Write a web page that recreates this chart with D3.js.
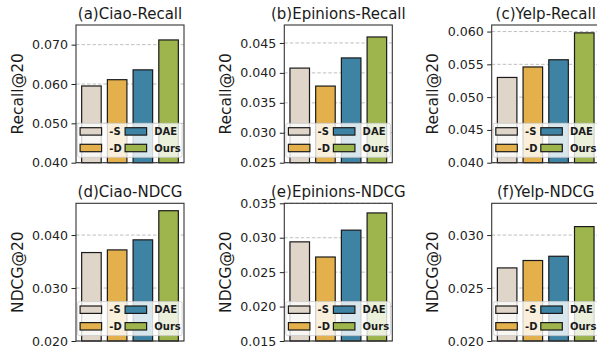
<!DOCTYPE html>
<html>
<head>
<meta charset="utf-8">
<script src="https://cdn.jsdelivr.net/npm/d3@7"></script>
<style>
  html, body { margin: 0; padding: 0; background: #fff; }
  svg { display: block; font-family: "DejaVu Sans", sans-serif; }
</style>
</head>
<body>
<svg id="chart" width="597" height="353"></svg>
<script>
// methods and bar colours
const methods = ['-S', '-D', 'DAE', 'Ours'];
const colors = ['#e0d5c9', '#e3b04b', '#3f83a4', '#9db54c'];

// values per panel
const ciaoRecall = [0.0595, 0.0611, 0.0636, 0.0712];
const epinionsRecall = [0.0408, 0.0378, 0.0425, 0.0460];
const yelpRecall = [0.0530, 0.0546, 0.0557, 0.0598];
const ciaoNdcg = [0.0367, 0.0372, 0.0391, 0.0446];
const epinionsNdcg = [0.0294, 0.0272, 0.0311, 0.0336];
const yelpNdcg = [0.0269, 0.0276, 0.0280, 0.0308];

const titles = ['(a)Ciao-Recall', '(b)Epinions-Recall', '(c)Yelp-Recall',
                '(d)Ciao-NDCG', '(e)Epinions-NDCG', '(f)Yelp-NDCG'];
const yLabels = ['Recall@20', 'Recall@20', 'Recall@20', 'NDCG@20', 'NDCG@20', 'NDCG@20'];
const yDomains = [[0.040, 0.075], [0.025, 0.048], [0.040, 0.061],
                  [0.020, 0.046], [0.015, 0.035], [0.020, 0.033]];
const yTicks = [
  [0.040, 0.050, 0.060, 0.070],
  [0.025, 0.030, 0.035, 0.040, 0.045],
  [0.040, 0.045, 0.050, 0.055, 0.060],
  [0.020, 0.030, 0.040],
  [0.015, 0.020, 0.025, 0.030, 0.035],
  [0.020, 0.025, 0.030]
];
const series = [ciaoRecall, epinionsRecall, yelpRecall, ciaoNdcg, epinionsNdcg, yelpNdcg];

const svg = d3.select('#chart');

// panel layout
const colLefts = [76, 284.3, 491.7];
const rowTops = [25, 203.3];
const axW = 108, axH = 137.7;

series.forEach((values, idx) => {
  const col = idx % 3, row = Math.floor(idx / 3);
  const g = svg.append('g')
      .attr('transform', `translate(${colLefts[col]},${rowTops[row]})`);

  const x = d3.scaleLinear().domain([-0.6, 3.6]).range([0, axW]);
  const y = d3.scaleLinear().domain(yDomains[idx]).range([axH, 0]);
  const barW = x(0.76) - x(0);

  // grid
  g.append('g')
    .selectAll('line')
    .data(yTicks[idx])
    .join('line')
      .attr('x1', 0).attr('x2', axW)
      .attr('y1', d => y(d)).attr('y2', d => y(d))
      .attr('stroke', '#b8b8b8')
      .attr('stroke-width', 0.9)
      .attr('stroke-dasharray', '3.5,2');

  // bars
  g.append('g')
    .selectAll('rect')
    .data(values)
    .join('rect')
      .attr('x', (d, i) => x(i) - barW / 2)
      .attr('y', d => y(d))
      .attr('width', barW)
      .attr('height', d => axH - y(d))
      .attr('fill', (d, i) => colors[i])
      .attr('stroke', '#1a1a1a')
      .attr('stroke-width', 1.2);

  // y axis
  const yAxis = g.append('g')
      .call(d3.axisLeft(y).tickValues(yTicks[idx]).tickFormat(d3.format('.3f'))
        .tickSize(4.5).tickPadding(3.5));
  yAxis.select('.domain').remove();
  yAxis.selectAll('.tick line').attr('stroke', '#222').attr('stroke-width', 1);
  yAxis.selectAll('.tick text')
      .attr('font-family', '"DejaVu Sans", sans-serif')
      .attr('font-size', 12.6)
      .attr('fill', '#222');

  // frame
  g.append('rect')
      .attr('width', axW).attr('height', axH)
      .attr('fill', 'none')
      .attr('stroke', '#333')
      .attr('stroke-width', 1.1);

  // legend
  const leg = g.append('g').attr('transform', `translate(1.6,${axH - 39.4})`);
  leg.append('rect')
      .attr('width', 104.5).attr('height', 34)
      .attr('rx', 2)
      .attr('fill', '#fff').attr('fill-opacity', 0.8)
      .attr('stroke', '#cccccc').attr('stroke-width', 0.8);
  const items = leg.selectAll('g.item')
    .data(methods)
    .join('g')
      .attr('class', 'item')
      .attr('transform', (d, i) => {
        const c = i < 2 ? 0 : 1, r = i % 2;
        return `translate(${2.5 + c * 45},${4.4 + r * 16.6})`;
      });
  items.append('rect')
      .attr('width', 21.5).attr('height', 7.4)
      .attr('fill', (d, i) => colors[i])
      .attr('stroke', '#1a1a1a')
      .attr('stroke-width', 1.2);
  items.append('text')
      .attr('x', 29.2)
      .attr('y', 7.4)
      .attr('font-size', 10)
      .attr('font-weight', 'bold')
      .attr('fill', '#1a1a1a')
      .text(d => d);

  // title
  g.append('text')
      .attr('x', axW / 2)
      .attr('y', -6.5)
      .attr('text-anchor', 'middle')
      .attr('font-size', 15)
      .attr('fill', '#1a1a1a')
      .text(titles[idx]);

  // y label
  g.append('text')
      .attr('transform', `translate(-53.5,${axH / 2}) rotate(-90)`)
      .attr('text-anchor', 'middle')
      .attr('font-size', 15.5)
      .attr('fill', '#1a1a1a')
      .text(yLabels[idx]);
});
</script>
</body>
</html>
